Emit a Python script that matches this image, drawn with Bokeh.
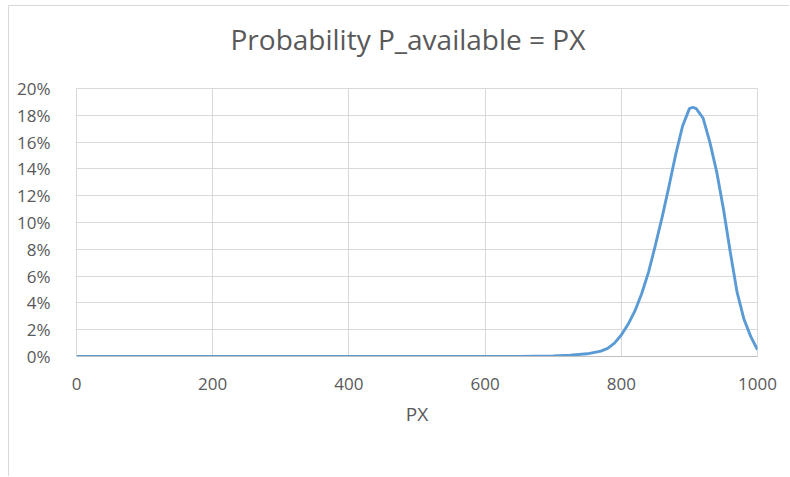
from bokeh.plotting import figure
from bokeh.models import FixedTicker, NumeralTickFormatter, Range1d, Title, ColumnDataSource
from bokeh.embed import file_html
from bokeh.resources import INLINE

# Probability that P_available equals PX
px = [0, 100, 200, 300, 400, 500, 600, 650, 700, 725, 750, 770, 780, 790,
      800, 810, 820, 830, 840, 850, 860, 870, 880, 890, 900, 905, 910, 920,
      930, 940, 950, 960, 970, 980, 990, 1000]
prob = [0.0, 0.0, 0.0, 0.0, 0.0, 0.0, 0.0, 0.0, 0.0005, 0.001, 0.002, 0.004,
        0.006, 0.010, 0.016, 0.024, 0.034, 0.047, 0.063, 0.083, 0.104, 0.127,
        0.151, 0.172, 0.185, 0.186, 0.185, 0.178, 0.160, 0.138, 0.110, 0.078,
        0.048, 0.028, 0.015, 0.005]

x_ticks = [0, 200, 400, 600, 800, 1000]
y_ticks = [0.0, 0.02, 0.04, 0.06, 0.08, 0.10, 0.12, 0.14, 0.16, 0.18, 0.20]

FONT = "Open Sans"
TEXT = "#595959"
GRID = "#D9D9D9"

p = figure(width=781, height=471, output_backend="svg", toolbar_location=None,
           x_range=Range1d(0, 1000), y_range=Range1d(0, 0.20),
           min_border_left=67, min_border_right=33, min_border_top=82,
           min_border_bottom=121, background_fill_color="white",
           border_fill_color="white", outline_line_color=GRID,
           margin=(5, 0, 0, 8),
           styles={"border-left": "1px solid #D9D9D9", "border-top": "1px solid #D9D9D9"})

# white, near-empty panel that keeps the title clear of the plot area
gap = Title(text=" ", text_font_size="1px", text_color="white", standoff=28)
p.add_layout(gap, "above")

# title centred on the whole chart rather than on the plot area
title = Title(text="Probability P_available = PX", align="left", offset=154,
              text_font=FONT, text_font_size="28px", text_font_style="normal",
              text_color=TEXT, standoff=0)
p.add_layout(title, "above")

src = ColumnDataSource(dict(px=px, prob=prob))
p.line("px", "prob", source=src, line_color="#5B9BD5", line_width=2.9)

p.xaxis.ticker = FixedTicker(ticks=x_ticks)
p.yaxis.ticker = FixedTicker(ticks=y_ticks)
p.yaxis.formatter = NumeralTickFormatter(format="0%")

for ax in (p.xaxis[0], p.yaxis[0]):
    ax.major_tick_line_color = None
    ax.minor_tick_line_color = None
    ax.major_label_text_font = FONT
    ax.major_label_text_font_size = "17px"
    ax.major_label_text_color = TEXT
    ax.axis_label_text_font = FONT
    ax.axis_label_text_font_size = "19px"
    ax.axis_label_text_font_style = "normal"
    ax.axis_label_text_color = TEXT

p.xaxis.axis_line_color = "#BFBFBF"
p.yaxis.axis_line_color = GRID
p.xaxis.major_label_standoff = 15
p.yaxis.major_label_standoff = 20
p.xaxis.axis_label = "PX"
p.xaxis.axis_label_standoff = 8

p.xgrid.grid_line_color = GRID
p.ygrid.grid_line_color = GRID
p.xgrid.ticker = FixedTicker(ticks=x_ticks)
p.ygrid.ticker = FixedTicker(ticks=y_ticks)

open("out.html", "w").write(file_html(p, INLINE))
